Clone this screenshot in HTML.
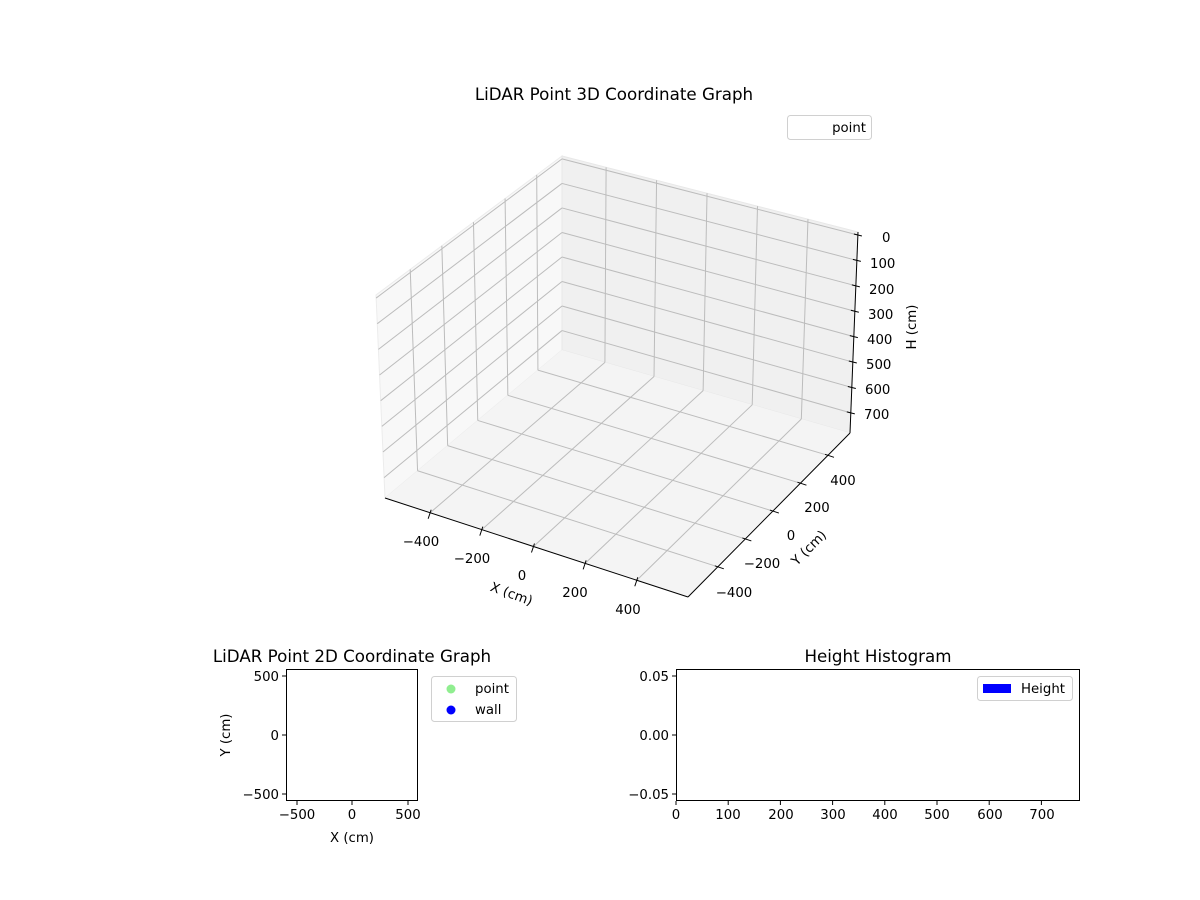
<!DOCTYPE html>
<html><head><meta charset="utf-8"><style>
html,body{margin:0;padding:0;background:#fff;}
svg{display:block;font-family:"DejaVu Sans","Liberation Sans",sans-serif;}
</style></head><body>
<svg id="s" width="1200" height="900" viewBox="0 0 1200 900" xmlns="http://www.w3.org/2000/svg">
<rect width="1200" height="900" fill="#fff"/>
<polygon points="562,156 562,350 385,498 376,295" fill="#f8f8f8" stroke="#ececec" stroke-width="1"/>
<polygon points="562,156 858,232 850,433 562,350" fill="#f0f0f0" stroke="#e8e8e8" stroke-width="1"/>
<polygon points="562,350 850,433 688,597 385,498" fill="#f4f4f4"/>
<g id="grid" stroke="#bcbcbc" stroke-width="1" fill="none"></g>
<line x1="385" y1="498" x2="688" y2="597" stroke="#000" stroke-width="1"/>
<line x1="688" y1="597" x2="850" y2="433" stroke="#000" stroke-width="1"/>
<line x1="858" y1="232" x2="850" y2="433" stroke="#000" stroke-width="1"/>
<g id="ticks" stroke="#000" stroke-width="1"></g>
<g font-size="13.3" fill="#000">
<text x="614" y="100" text-anchor="middle" font-size="16.7">LiDAR Point 3D Coordinate Graph</text>
<g text-anchor="start">
<text x="882" y="242">0</text><text x="870" y="268">100</text><text x="869" y="294">200</text><text x="868" y="319">300</text><text x="867" y="344">400</text><text x="866" y="369">500</text><text x="865" y="394">600</text><text x="864" y="419">700</text>
</g>
<text transform="translate(916,327) rotate(-90)" text-anchor="middle">H (cm)</text>
<g text-anchor="middle">
<text x="421" y="546">−400</text><text x="472" y="563">−200</text><text x="522" y="580">0</text><text x="575" y="597">200</text><text x="628" y="614">400</text>
<text x="843" y="485">400</text><text x="817" y="512">200</text><text x="791" y="540">0</text><text x="762" y="568">−200</text><text x="734" y="597">−400</text>
</g>
<text transform="translate(510,598) rotate(20)" text-anchor="middle">X (cm)</text>
<text transform="translate(812,551) rotate(-45)" text-anchor="middle">Y (cm)</text>
</g>
<rect x="787.5" y="115.5" width="84" height="24" rx="3" fill="#fff" stroke="#d0d0d0"/>
<text x="866" y="132" font-size="13.3" text-anchor="end">point</text>

<text x="352" y="662" font-size="16.7" text-anchor="middle">LiDAR Point 2D Coordinate Graph</text>
<rect x="286.5" y="669.5" width="131" height="131" fill="#fff" stroke="#000"/>
<g stroke="#000">
<line x1="286" y1="676" x2="282" y2="676"/><line x1="286" y1="735" x2="282" y2="735"/><line x1="286" y1="794" x2="282" y2="794"/>
<line x1="297" y1="801" x2="297" y2="805"/><line x1="352" y1="801" x2="352" y2="805"/><line x1="408" y1="801" x2="408" y2="805"/>
</g>
<g font-size="13.3">
<g text-anchor="end"><text x="279" y="681">500</text><text x="279" y="740">0</text><text x="279" y="799">−500</text></g>
<g text-anchor="middle"><text x="297" y="819">−500</text><text x="352" y="819">0</text><text x="408" y="819">500</text>
<text x="352" y="842">X (cm)</text></g>
<text transform="translate(230,735) rotate(-90)" text-anchor="middle">Y (cm)</text>
</g>
<rect x="431.5" y="676.5" width="85" height="45" rx="3" fill="#fff" stroke="#d0d0d0"/>
<circle cx="451" cy="689" r="4.5" fill="#90ee90"/><circle cx="451" cy="710" r="4.5" fill="#0000ff"/>
<text x="475" y="693" font-size="13.3">point</text><text x="475" y="714" font-size="13.3">wall</text>

<text x="878" y="662" font-size="16.7" text-anchor="middle">Height Histogram</text>
<rect x="676.5" y="669.5" width="403" height="131" fill="#fff" stroke="#000"/>
<g stroke="#000" id="ht">
<line x1="676" y1="676" x2="672" y2="676"/><line x1="676" y1="735" x2="672" y2="735"/><line x1="676" y1="794" x2="672" y2="794"/>
</g>
<g font-size="13.3">
<g text-anchor="end"><text x="669" y="681">0.05</text><text x="669" y="740">0.00</text><text x="669" y="799">−0.05</text></g>
<g text-anchor="middle"><text x="676" y="819">0</text><text x="728" y="819">100</text><text x="781" y="819">200</text><text x="833" y="819">300</text><text x="885" y="819">400</text><text x="937" y="819">500</text><text x="990" y="819">600</text><text x="1042" y="819">700</text></g>
</g>
<rect x="977.5" y="676.5" width="95" height="24" rx="3" fill="#fff" stroke="#d0d0d0"/>
<rect x="983" y="684" width="28" height="9" fill="#0000ff"/>
<text x="1021" y="693" font-size="13.3">Height</text>
</svg>
<script>
(function(){
var g=document.getElementById('grid'),tk=document.getElementById('ticks');
function L(p,a,b,c,d){var l=document.createElementNS('http://www.w3.org/2000/svg','line');l.setAttribute('x1',a);l.setAttribute('y1',b);l.setAttribute('x2',c);l.setAttribute('y2',d);p.appendChild(l);}
function lp(A,B,t){return [A[0]+(B[0]-A[0])*t,A[1]+(B[1]-A[1])*t];}
var BT=[562,156],BB=[562,350],RT=[858,232],RB=[850,433],LT=[376,295],LB=[385,498],F=[688,597];
for(var k=0;k<5;k++){var u=0.149+0.1705*k;
 var a=lp(BT,RT,u),b=lp(BB,RB,u),c=lp(LB,F,u);L(g,a[0],a[1],b[0],b[1]);L(g,b[0],b[1],c[0],c[1]);
 var d=[c[0]-2,c[1]+6];L(tk,c[0]+1,c[1]-3,d[0],d[1]);}
for(var k=0;k<5;k++){var v=0.136+0.17*k;
 var a=lp(BT,LT,v),b=lp(BB,LB,v),c=lp(RB,F,v);L(g,a[0],a[1],b[0],b[1]);L(g,b[0],b[1],c[0],c[1]);
 L(tk,c[0]-3,c[1]-1,c[0]+6,c[1]+2);}
for(var k=0;k<8;k++){var t=0.015+0.1264*k;
 var a=lp(RT,RB,t),b=lp(BT,BB,t),c=lp(LT,LB,t);L(g,a[0],a[1],b[0],b[1]);L(g,b[0],b[1],c[0],c[1]);
 L(tk,a[0]-4,a[1]-1,a[0]+4,a[1]+1);}
var ht=document.getElementById('ht');
for(var k=0;k<8;k++){var x=676+52.2*k;L(ht,x,801,x,805);}
})();
</script>
</body></html>
